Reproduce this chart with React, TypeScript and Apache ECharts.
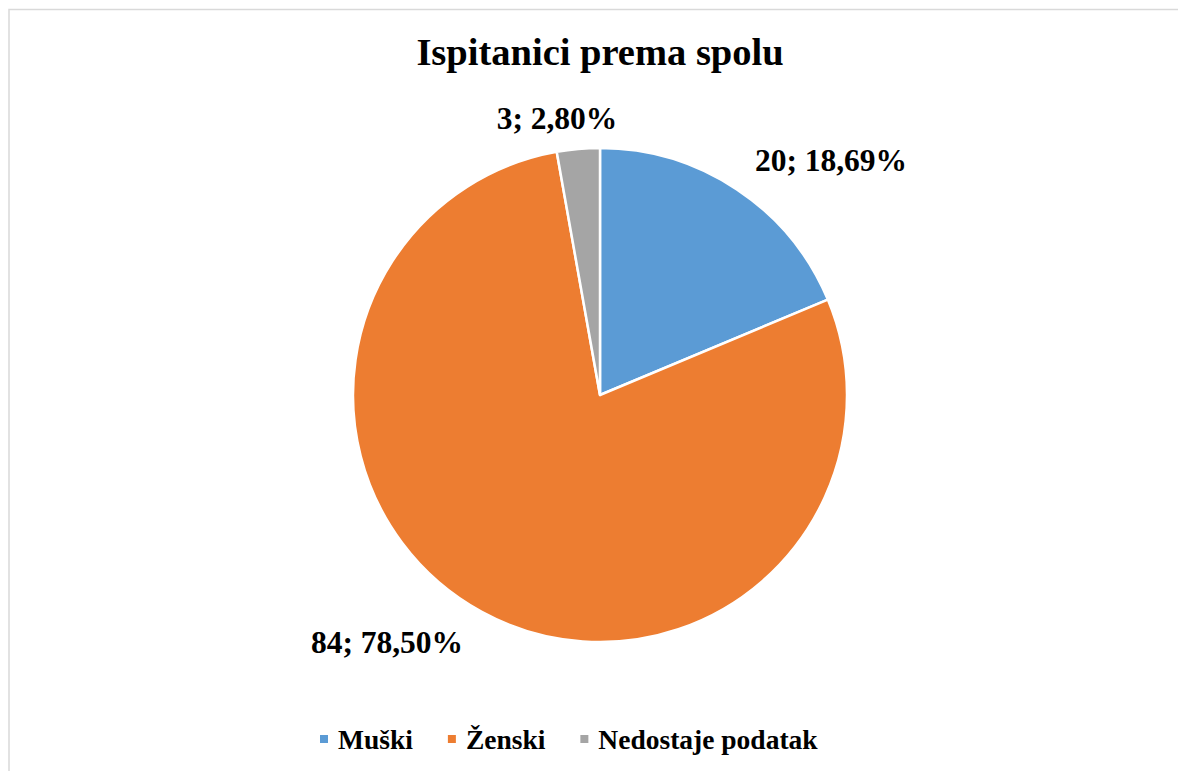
import React, { useEffect, useRef } from "react";
import * as echarts from "echarts";

const titleText = "Ispitanici prema spolu";
const categories = ["Muški", "Ženski", "Nedostaje podatak"];
const values = [20, 84, 3];
const colors = ["#5B9BD5", "#ED7D31", "#A5A5A5"];
// label anchor positions (layout only)
const labelPos = [
  { x: 831, y: 160 },
  { x: 387, y: 642 },
  { x: 557, y: 118 },
];

const FONT = "'Times New Roman', 'Liberation Serif', serif";

export default function App() {
  const ref = useRef<HTMLDivElement>(null);
  useEffect(() => {
    document.body.style.margin = "0";
    const chart = echarts.init(ref.current!, null, { renderer: "svg" });
    const total = values.reduce((a, b) => a + b, 0);
    chart.setOption({
      animation: false,
      backgroundColor: "#ffffff",
      title: {
        text: titleText,
        left: 595,
        textAlign: "center",
        top: 27,
        textStyle: { fontFamily: FONT, fontWeight: "bold", fontSize: 38.5, color: "#000" },
      },
      legend: {
        data: categories,
        left: 313,
        top: 720,
        icon: "rect",
        itemWidth: 10,
        itemHeight: 10,
        itemGap: 33,
        textStyle: { fontFamily: FONT, fontWeight: "bold", fontSize: 27.5, color: "#000", padding: [0, 0, 0, 4] },
      },
      graphic: [
        {
          type: "rect",
          shape: { x: 9, y: 9.5, width: 1300, height: 900 },
          style: { fill: "none", stroke: "#d9d9d9", lineWidth: 1.5 },
          silent: true,
        },
      ],
      series: [
        {
          type: "pie",
          center: [600, 395],
          radius: 247,
          startAngle: 90,
          clockwise: true,
          itemStyle: { borderColor: "#ffffff", borderWidth: 2.5 },
          label: {
            show: true,
            position: "outside",
            fontFamily: FONT,
            fontWeight: "bold",
            fontSize: 31.5,
            color: "#000",
            formatter: (p: any) =>
              `${p.value}; ${((p.value / total) * 100).toFixed(2).replace(".", ",")}%`,
          },
          labelLine: { show: false },
          labelLayout: (p: any) => ({
            x: labelPos[p.dataIndex].x,
            y: labelPos[p.dataIndex].y,
            align: "center",
            verticalAlign: "middle",
          }),
          emphasis: { disabled: true },
          data: categories.map((name, i) => ({
            name,
            value: values[i],
            itemStyle: { color: colors[i] },
          })),
        },
      ],
    });
    return () => chart.dispose();
  }, []);
  return <div ref={ref} style={{ width: 1178, height: 771 }} />;
}
